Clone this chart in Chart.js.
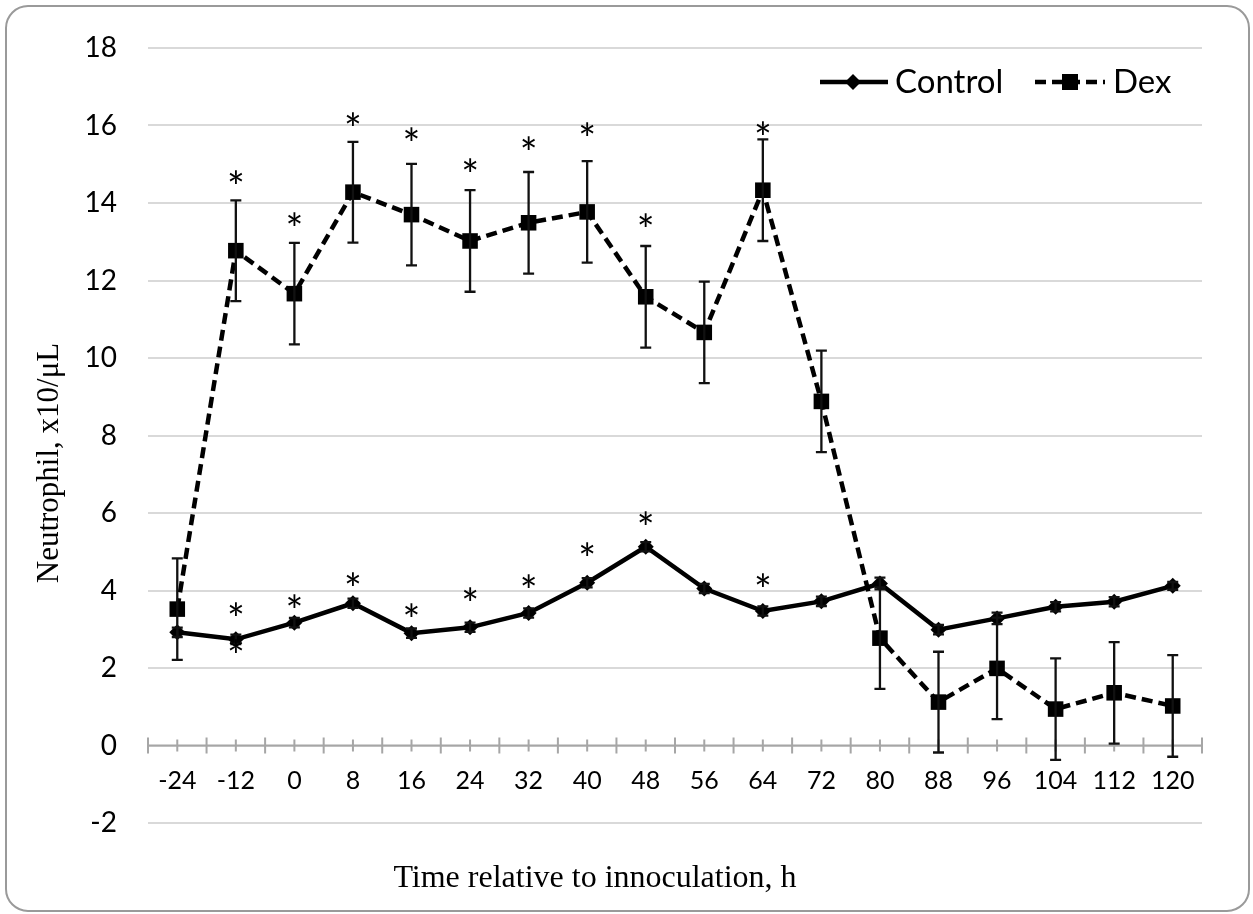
<!DOCTYPE html>
<html>
<head>
<meta charset="utf-8">
<script src="https://cdn.jsdelivr.net/npm/chart.js@4"></script>
<style>
  html, body { margin: 0; padding: 0; background: #fff; }
  #wrap { width: 1253px; height: 914px; position: relative; }
</style>
</head>
<body>
<div id="wrap"><canvas id="neutroChart"></canvas></div>
<script>
// time points (h relative to inoculation)
const timeLabels = ['-24', '-12', '0', '8', '16', '24', '32', '40', '48', '56', '64', '72', '80', '88', '96', '104', '112', '120'];

const controlMean = [2.92, 2.74, 3.17, 3.67, 2.90, 3.05, 3.42, 4.20, 5.13, 4.05, 3.47, 3.72, 4.18, 2.99, 3.28, 3.58, 3.71, 4.12];
const controlErr  = [0.12, 0.12, 0.12, 0.12, 0.12, 0.12, 0.12, 0.12, 0.12, 0.12, 0.12, 0.12, 0.15, 0.12, 0.15, 0.12, 0.12, 0.10];

const dexMean = [3.52, 12.77, 11.66, 14.28, 13.70, 13.02, 13.49, 13.77, 11.58, 10.66, 14.33, 8.88, 2.77, 1.12, 1.99, 0.94, 1.36, 1.02];
const dexErr  = [1.31, 1.30, 1.31, 1.30, 1.31, 1.31, 1.31, 1.31, 1.31, 1.31, 1.31, 1.31, 1.31, 1.30, 1.31, 1.31, 1.31, 1.31];

// significance stars (y value where the * sits), null = none
const starsControl = [null, 3.53, 3.74, 4.29, 3.49, 3.90, 4.24, 5.06, 5.86, null, 4.26, null, null, null, null, null, null, null];
const starsDex     = [null, 14.66, 13.58, 16.16, 15.77, 14.98, 15.54, 15.90, 13.56, null, 15.93, null, null, null, null, null, null, null];
const starsExtra   = [null, 2.58, null, null, null, null, null, null, null, null, null, null, null, null, null, null, null, null];

const yTicks = { min: -2, max: 18, step: 2 };
const xTitle = 'Time relative to innoculation, h';
const yTitle = 'Neutrophil, x10/μL';

const sansFont = 'Lato, "Noto Sans", sans-serif';
const serifFont = '"Times New Roman", "Liberation Serif", serif';

const frameAndAxis = {
  id: 'frameAndAxis',
  beforeDraw(chart) {
    const ctx = chart.ctx;
    ctx.save();
    ctx.strokeStyle = '#9a9a9a';
    ctx.lineWidth = 2;
    ctx.beginPath();
    ctx.roundRect(6, 6, chart.width - 10, chart.height - 9, 22);
    ctx.stroke();

    // axis titles
    ctx.fillStyle = '#000';
    ctx.font = '32px ' + serifFont;
    ctx.textAlign = 'center';
    ctx.textBaseline = 'middle';
    ctx.fillText(xTitle, 595, 879);
    ctx.save();
    ctx.translate(50, 463);
    ctx.rotate(-Math.PI / 2);
    ctx.font = '31px ' + serifFont;
    ctx.fillText(yTitle, 0, 0);
    ctx.restore();
    ctx.restore();
  },
  beforeDatasetsDraw(chart) {
    const ctx = chart.ctx;
    const xs = chart.scales.x, ys = chart.scales.y;
    const area = chart.chartArea;
    const y0 = ys.getPixelForValue(0);
    ctx.save();
    ctx.strokeStyle = '#a6a6a6';
    ctx.lineWidth = 2;
    ctx.beginPath();
    ctx.moveTo(area.left, y0);
    ctx.lineTo(area.right, y0);
    // tick marks at category boundaries and centres
    for (let i = 0; i <= timeLabels.length; i++) {
      let bx;
      if (i === 0) bx = area.left;
      else if (i === timeLabels.length) bx = area.right;
      else bx = (xs.getPixelForValue(i - 1) + xs.getPixelForValue(i)) / 2;
      ctx.moveTo(bx, y0 - 8);
      ctx.lineTo(bx, y0 + 8);
    }
    timeLabels.forEach((_, i) => {
      const cx = xs.getPixelForValue(i);
      ctx.moveTo(cx, y0 - 6);
      ctx.lineTo(cx, y0 + 6);
    });
    ctx.stroke();
    ctx.fillStyle = '#000';
    ctx.font = '25px ' + sansFont;
    ctx.textAlign = 'center';
    ctx.textBaseline = 'middle';
    timeLabels.forEach((lab, i) => {
      ctx.fillText(lab, xs.getPixelForValue(i), y0 + 35);
    });
    ctx.restore();
  },
  afterDatasetsDraw(chart) {
    const ctx = chart.ctx;
    const xs = chart.scales.x, ys = chart.scales.y;
    ctx.save();
    ctx.strokeStyle = '#111';
    ctx.lineWidth = 2.3;
    const bars = (means, errs) => {
      means.forEach((m, i) => {
        const x = xs.getPixelForValue(i);
        const top = ys.getPixelForValue(m + errs[i]);
        const bot = ys.getPixelForValue(m - errs[i]);
        ctx.beginPath();
        ctx.moveTo(x, top); ctx.lineTo(x, bot);
        ctx.moveTo(x - 5.5, top); ctx.lineTo(x + 5.5, top);
        ctx.moveTo(x - 5.5, bot); ctx.lineTo(x + 5.5, bot);
        ctx.stroke();
      });
    };
    bars(controlMean, controlErr);
    bars(dexMean, dexErr);

    // stars
    ctx.fillStyle = '#000';
    ctx.font = '42px ' + sansFont;
    ctx.textAlign = 'center';
    ctx.textBaseline = 'alphabetic';
    const m = ctx.measureText('*');
    const off = (m.actualBoundingBoxAscent - m.actualBoundingBoxDescent) / 2;
    [starsControl, starsDex, starsExtra].forEach(arr => {
      arr.forEach((v, i) => {
        if (v === null) return;
        ctx.fillText('*', xs.getPixelForValue(i), ys.getPixelForValue(v) + off);
      });
    });

    // legend
    const ly = 82;
    ctx.lineWidth = 4.5;
    ctx.strokeStyle = '#000';
    ctx.beginPath();
    ctx.moveTo(820, ly); ctx.lineTo(888, ly);
    ctx.stroke();
    ctx.beginPath();
    ctx.moveTo(853, ly - 8); ctx.lineTo(861, ly); ctx.lineTo(853, ly + 8); ctx.lineTo(845, ly);
    ctx.closePath(); ctx.fill();
    ctx.setLineDash([11, 6]);
    ctx.beginPath();
    ctx.moveTo(1035, ly); ctx.lineTo(1105, ly);
    ctx.stroke();
    ctx.setLineDash([]);
    ctx.fillRect(1062, ly - 8, 16, 16);
    ctx.font = '33px ' + sansFont;
    ctx.textAlign = 'left';
    ctx.textBaseline = 'middle';
    ctx.fillText('Control', 895, ly);
    ctx.fillText('Dex', 1113, ly);
    ctx.restore();
  }
};

const ctx = document.getElementById('neutroChart').getContext('2d');
const chart = new Chart(ctx, {
  type: 'line',
  data: {
    labels: timeLabels,
    datasets: [{
      label: 'Control',
      data: controlMean,
      borderColor: '#000',
      backgroundColor: '#000',
      borderWidth: 4.5,
      pointStyle: 'rectRot',
      pointRadius: 8,
      pointBorderWidth: 0,
      tension: 0
    }, {
      label: 'Dex',
      data: dexMean,
      borderColor: '#000',
      backgroundColor: '#000',
      borderWidth: 4.5,
      borderDash: [11, 6],
      pointStyle: 'rect',
      pointRadius: 11,
      pointBorderWidth: 0,
      tension: 0
    }]
  },
  options: {
    responsive: true,
    maintainAspectRatio: false,
    animation: false,
    layout: { padding: { left: 0, right: 51, top: 48, bottom: 0 } },
    plugins: {
      legend: { display: false },
      tooltip: { enabled: false }
    },
    scales: {
      x: {
        type: 'category',
        offset: true,
        grid: { display: false, drawTicks: false },
        border: { display: false },
        ticks: { display: false },
        afterFit(scale) { scale.height = 91; }
      },
      y: {
        min: yTicks.min,
        max: yTicks.max,
        ticks: {
          stepSize: yTicks.step,
          color: '#000',
          padding: 31,
          font: { family: sansFont, size: 28 }
        },
        grid: { color: '#d9d9d9', lineWidth: 2, drawTicks: false },
        border: { display: false },
        afterFit(scale) { scale.width = 148; }
      }
    }
  },
  plugins: [frameAndAxis]
});
</script>
</body>
</html>
